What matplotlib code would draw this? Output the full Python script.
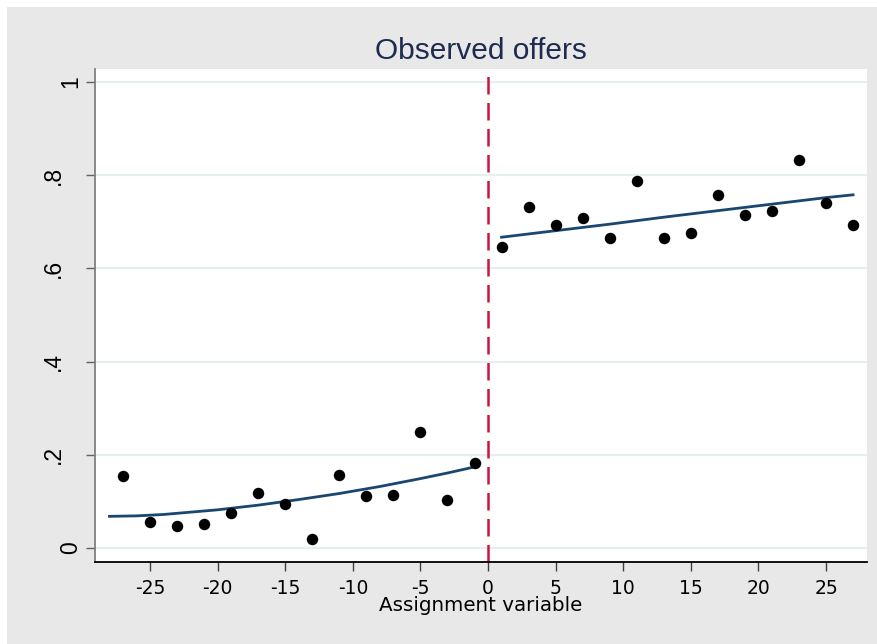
import matplotlib
matplotlib.use('Agg')
import matplotlib.pyplot as plt
from matplotlib.patches import Rectangle

# binned means of the outcome by assignment variable
x_left = [-27, -25, -23, -21, -19, -17, -15, -13, -11, -9, -7, -5, -3, -1]
y_left = [0.155, 0.056, 0.047, 0.052, 0.075, 0.118, 0.094, 0.019, 0.157,
          0.112, 0.114, 0.248, 0.102, 0.183]
x_right = [1, 3, 5, 7, 9, 11, 13, 15, 17, 19, 21, 23, 25, 27]
y_right = [0.646, 0.732, 0.694, 0.708, 0.665, 0.787, 0.665, 0.676, 0.757,
           0.715, 0.724, 0.832, 0.741, 0.694]

# fitted values on each side of the cutoff
fit_left_x = [-28, -26, -24, -22, -20, -17, -14, -11, -8, -5, -3, -1]
fit_left_y = [0.068, 0.069, 0.072, 0.077, 0.082, 0.092, 0.104, 0.117,
              0.132, 0.149, 0.161, 0.174]
fit_right_x = [1, 5, 9, 13, 17, 21, 23, 25, 27]
fit_right_y = [0.667, 0.681, 0.695, 0.710, 0.724, 0.738, 0.745, 0.752, 0.758]

xticks = [-25, -20, -15, -10, -5, 0, 5, 10, 15, 20, 25]
yticks = [0, 0.2, 0.4, 0.6, 0.8, 1]
ylabels = ['0', '.2', '.4', '.6', '.8', '1']

W, H = 878, 644
fig = plt.figure(figsize=(W / 100, H / 100), dpi=100)
fig.patch.set_facecolor('white')
bg = Rectangle((7 / W, 0), 1, 1 - 7 / H, transform=fig.transFigure,
               facecolor='#e8e8e8', edgecolor='none', zorder=-10)
fig.add_artist(bg)

ax = fig.add_axes([95 / W, 1 - 562 / H, (867 - 95) / W, (562 - 69) / H])
ax.set_facecolor('white')

for v in yticks:
    ax.axhline(v, color='#e6eeef', lw=1.6, zorder=1)

ax.axvline(0, color='#cc1444', lw=1.8, dashes=(7, 3.4), zorder=2)

ax.plot(fit_left_x, fit_left_y, color='#1a476f', lw=2.0, zorder=3)
ax.plot(fit_right_x, fit_right_y, color='#1a476f', lw=2.0, zorder=3)
ax.scatter(x_left, y_left, s=68, color='black', zorder=4, linewidths=0)
ax.scatter(x_right, y_right, s=68, color='black', zorder=4, linewidths=0)

ax.set_xlim(-29.07, 28.03)
ax.set_ylim(-0.030, 1.028)

for s in ['top', 'right']:
    ax.spines[s].set_visible(False)
ax.spines['left'].set_color('#808080')
ax.spines['left'].set_linewidth(1.3)
ax.spines['bottom'].set_color('black')
ax.spines['bottom'].set_linewidth(1.3)

ax.set_xticks(xticks)
ax.set_xticklabels([str(t) for t in xticks], family='DejaVu Sans', fontsize=13.5)
ax.tick_params(axis='x', length=6.5, width=1, color='#404040', pad=5.5)

ax.set_yticks(yticks)
ax.set_yticklabels(ylabels, family='Liberation Sans', fontsize=16.5,
                   rotation=90, va='center', ha='right')
ax.tick_params(axis='y', length=6.5, width=1, color='#606060', pad=3)
ax_w = (867 - 95)
for lab in ax.get_yticklabels():
    if lab.get_text().startswith('.'):
        lab.set_x(-17 / ax_w)

ax.set_xlabel('Assignment variable', family='DejaVu Sans', fontsize=14.3,
              labelpad=-1)
ax.set_title('Observed offers', family='Liberation Sans', fontsize=21.5,
             color='#1e2b50', pad=7)

fig.savefig('out.png', dpi=100)
